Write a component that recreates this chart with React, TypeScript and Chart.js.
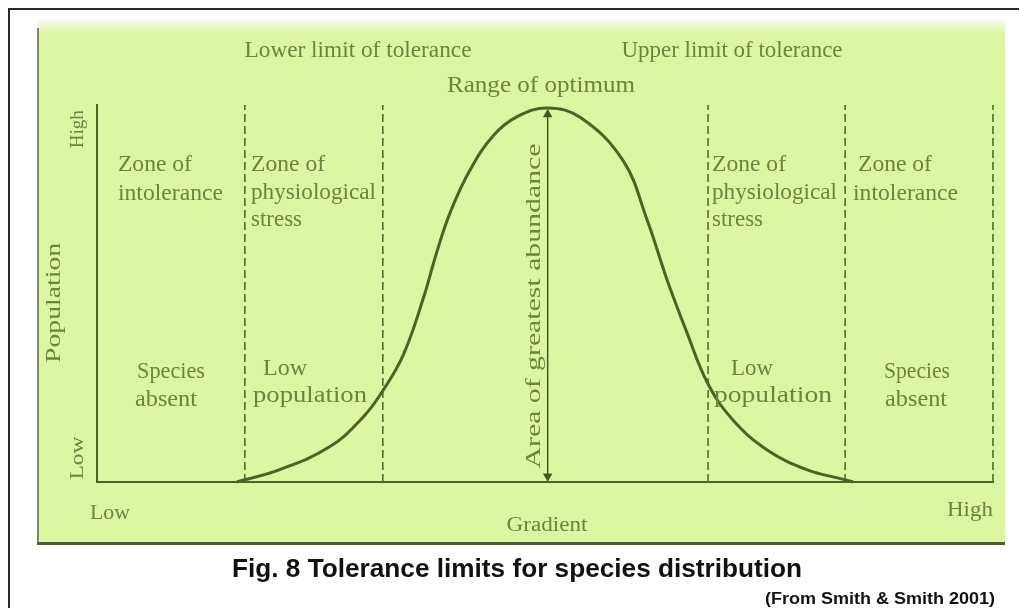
import React, { useEffect, useRef } from "react";
import { Chart, registerables } from "chart.js";

Chart.register(...registerables);

// ---- data ----
const gradientX = [15.6, 20.4, 26.0, 29.7, 31.9, 34.2, 36.4, 37.9, 39.4, 41.6, 44.2, 46.9, 50.3, 54.0, 58.7, 61.4, 63.6, 65.8, 68.2, 71.0, 74.8, 79.2, 83.3, 84.4];
const populationY = [0, 3.3, 9.4, 17.2, 24.2, 33.8, 48.6, 60.8, 71.4, 82.6, 91.8, 96.9, 99.2, 96.6, 85.3, 69.5, 53.8, 39.9, 26.0, 16.4, 8.5, 3.3, 0.7, 0];
const zoneBoundaries = [16.5, 31.9, 68.2, 83.5, 100];
const optimumX = 50.3;
const gradientLabels = ["Low", "Gradient", "High"];
const populationLabels = ["Low", "Population", "High"];
const captionText = "Fig. 8 Tolerance limits for species distribution";
const sourceText = "(From Smith & Smith 2001)";

// ---- styles ----
const PANEL = "#dcf6a2";
const CURVE = "#466628";
const DASH = "#4f702e";
const TEXT = "#66873d";
const SERIF = "'Liberation Serif', 'DejaVu Serif', serif";

type Lbl = { text: string; x: number; y: number; w: number; align: CanvasTextAlign; size: number; rot?: boolean };

// label positions in data units (gradient, population)
const labels: Lbl[] = [
  { text: "Lower limit of tolerance", x: 29.13, y: 114.3, w: 227, align: "center", size: 22 },
  { text: "Upper limit of tolerance", x: 70.87, y: 114.3, w: 221, align: "center", size: 22 },
  { text: "Range of optimum", x: 49.55, y: 105.0, w: 188, align: "center", size: 22 },
  { text: "Zone of", x: 2.34, y: 84.1, w: 74, align: "left", size: 22 },
  { text: "intolerance", x: 2.34, y: 76.4, w: 105, align: "left", size: 22 },
  { text: "Zone of", x: 17.19, y: 84.1, w: 74, align: "left", size: 22 },
  { text: "physiological", x: 17.19, y: 76.66, w: 125, align: "left", size: 22 },
  { text: "stress", x: 17.19, y: 69.5, w: 51, align: "left", size: 22 },
  { text: "Zone of", x: 68.64, y: 84.1, w: 74, align: "left", size: 22 },
  { text: "physiological", x: 68.64, y: 76.66, w: 125, align: "left", size: 22 },
  { text: "stress", x: 68.64, y: 69.5, w: 51, align: "left", size: 22 },
  { text: "Zone of", x: 84.93, y: 84.1, w: 74, align: "left", size: 22 },
  { text: "intolerance", x: 84.38, y: 76.4, w: 105, align: "left", size: 22 },
  { text: "Species", x: 8.26, y: 29.18, w: 68, align: "center", size: 22 },
  { text: "absent", x: 7.7, y: 21.75, w: 62, align: "center", size: 22 },
  { text: "Low", x: 18.53, y: 29.97, w: 44, align: "left", size: 22 },
  { text: "population", x: 17.41, y: 22.81, w: 114, align: "left", size: 22 },
  { text: "Low", x: 70.76, y: 29.97, w: 42, align: "left", size: 22 },
  { text: "population", x: 68.86, y: 22.81, w: 118, align: "left", size: 22 },
  { text: "Species", x: 91.52, y: 29.18, w: 66, align: "center", size: 22 },
  { text: "absent", x: 91.41, y: 21.75, w: 62, align: "center", size: 22 },
  { text: "Area of greatest abundance", x: 48.88, y: 46.68, w: 325, align: "center", size: 21, rot: true },
  { text: populationLabels[2], x: -2.12, y: 93.6, w: 38, align: "center", size: 18, rot: true },
  { text: populationLabels[1], x: -4.8, y: 47.5, w: 120, align: "center", size: 21, rot: true },
  { text: populationLabels[0], x: -2.12, y: 6.37, w: 43, align: "center", size: 18, rot: true },
  { text: gradientLabels[0], x: 1.45, y: -8.22, w: 40, align: "center", size: 20 },
  { text: gradientLabels[1], x: 50.22, y: -11.4, w: 81, align: "center", size: 20 },
  { text: gradientLabels[2], x: 97.43, y: -7.43, w: 46, align: "center", size: 20 },
];

function drawFitted(ctx: CanvasRenderingContext2D, text: string, x: number, y: number, w: number, align: CanvasTextAlign, font: string, color: string, rot?: boolean, sy = 1) {
  ctx.save();
  ctx.font = font;
  const m = ctx.measureText(text).width || 1;
  ctx.translate(x, y);
  if (rot) ctx.rotate(-Math.PI / 2);
  ctx.scale(w / m, sy);
  ctx.textAlign = align;
  ctx.textBaseline = "middle";
  ctx.fillStyle = color;
  ctx.fillText(text, 0, 0);
  ctx.restore();
}

const panelPlugin = {
  id: "panel",
  beforeDraw(chart: any) {
    const ctx = chart.ctx as CanvasRenderingContext2D;
    ctx.save();
    const g = ctx.createLinearGradient(0, 19, 0, 34);
    g.addColorStop(0, "#f8fbee");
    g.addColorStop(1, PANEL);
    ctx.fillStyle = g;
    ctx.fillRect(38, 19, 1005 - 38, 544 - 19);
    ctx.fillStyle = "#7d8c5c";
    ctx.fillRect(37, 28, 2, 517);
    ctx.fillStyle = "#4e5d36";
    ctx.fillRect(37, 542, 968, 3);
    ctx.restore();
  },
  afterDraw(chart: any) {
    const ctx = chart.ctx as CanvasRenderingContext2D;
    const xs = chart.scales.x;
    const ys = chart.scales.y;
    for (const l of labels) {
      drawFitted(ctx, l.text, xs.getPixelForValue(l.x), ys.getPixelForValue(l.y), l.w, l.align, `${l.size}px ${SERIF}`, TEXT, l.rot, l.rot ? 1 : 1.08);
    }
    drawFitted(ctx, captionText, 517, 570, 570, "center", "bold 25px 'Liberation Sans', Arial, sans-serif", "#111", false);
    drawFitted(ctx, sourceText, 995, 600, 230, "right", "bold 16px 'Liberation Sans', Arial, sans-serif", "#111", false);
  },
};

export default function App() {
  const ref = useRef<HTMLCanvasElement | null>(null);

  useEffect(() => {
    if (!ref.current) return;
    const curve = gradientX.map((x, i) => ({ x, y: populationY[i] }));
    const dashSets = zoneBoundaries.map((b) => ({
      type: "line" as const,
      data: [{ x: b, y: 0 }, { x: b, y: 100 }],
      borderColor: DASH,
      borderWidth: 1.6,
      borderDash: [8, 4],
      pointRadius: 0,
      fill: false,
      clip: false,
    }));
    const chart = new Chart(ref.current, {
      type: "line",
      data: {
        datasets: [
          {
            data: curve,
            borderColor: CURVE,
            borderWidth: 3,
            tension: 0.4,
            pointRadius: 0,
            fill: false,
            clip: false,
          },
          ...dashSets,
          {
            data: [{ x: optimumX, y: 1.5 }, { x: optimumX, y: 97.5 }],
            borderColor: "#3e5a22",
            borderWidth: 1.5,
            pointStyle: "triangle",
            pointRadius: 4,
            pointRotation: (c: any) => (c.dataIndex === 0 ? 180 : 0),
            pointBackgroundColor: "#3e5a22",
            pointBorderColor: "#3e5a22",
            fill: false,
          },
        ] as any,
      },
      options: {
        animation: false,
        responsive: false,
        devicePixelRatio: 1,
        layout: { padding: { left: 97, right: 26, top: 105, bottom: 126 } },
        plugins: { legend: { display: false }, tooltip: { enabled: false }, title: { display: false } },
        scales: {
          x: {
            type: "linear",
            min: 0,
            max: 100,
            ticks: { display: false },
            grid: { display: false, drawTicks: false },
            border: { display: true, color: CURVE, width: 2 },
          },
          y: {
            type: "linear",
            min: 0,
            max: 100,
            ticks: { display: false },
            grid: { display: false, drawTicks: false },
            border: { display: true, color: CURVE, width: 2 },
          },
        },
      } as any,
      plugins: [panelPlugin],
    });
    return () => chart.destroy();
  }, []);

  return (
    <div style={{ position: "fixed", left: 0, top: 0, width: 1019, height: 608, background: "#fff", overflow: "hidden" }}>
      <div style={{ position: "absolute", left: 8, top: 8, width: 1030, height: 620, borderTop: "2px solid #2a2a2a", borderLeft: "2px solid #2a2a2a" }} />
      <canvas ref={ref} width={1019} height={608} style={{ position: "absolute", left: 0, top: 0, width: 1019, height: 608 }} />
    </div>
  );
}
